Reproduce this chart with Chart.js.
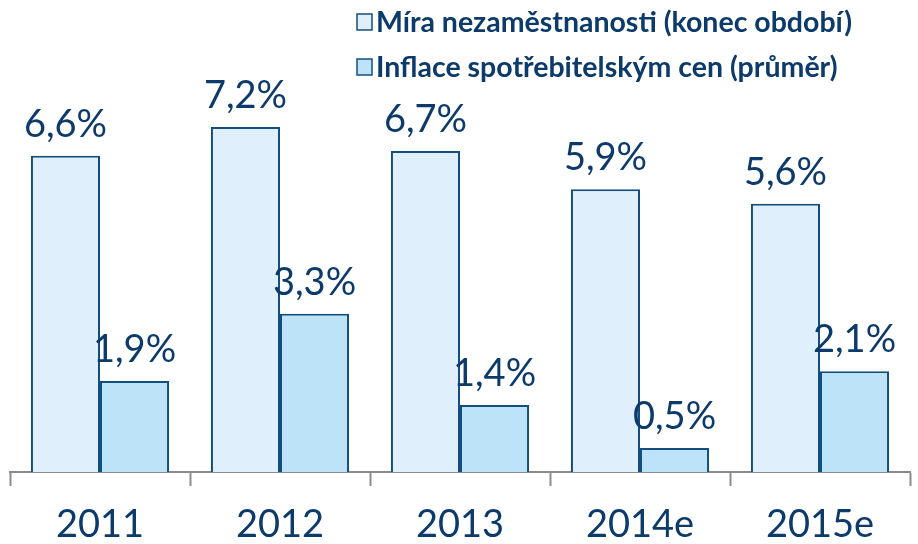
<!DOCTYPE html>
<html>
<head>
<meta charset="utf-8">
<script src="https://cdn.jsdelivr.net/npm/chart.js@4"></script>
<style>
  html, body { margin:0; padding:0; background:#fff; }
  #wrap { width:918px; height:544px; position:relative; }
</style>
</head>
<body>
<div id="wrap"><canvas id="chart"></canvas></div>
<script>
const years        = ['2011', '2012', '2013', '2014e', '2015e'];
const unemployment = [6.6, 7.2, 6.7, 5.9, 5.6];
const inflation    = [1.9, 3.3, 1.4, 0.5, 2.1];
const seriesNames  = ['Míra nezaměstnanosti (konec období)', 'Inflace spotřebitelským cen (průměr)'];

const navy   = '#0c3a6b';
const edge   = '#134e7e';
const fills  = ['#dff0fc', '#bde3f8'];
const axisGr = '#8c8c8c';

const fmt = v => v.toFixed(1).replace('.', ',') + '%';

// value labels above each bar
const valueLabels = {
  id: 'valueLabels',
  afterDatasetsDraw(chart) {
    const ctx = chart.ctx;
    ctx.save();
    ctx.fillStyle = navy;
    ctx.font = '38px Lato';
    ctx.textAlign = 'center';
    ctx.textBaseline = 'alphabetic';
    chart.data.datasets.forEach((ds, i) => {
      chart.getDatasetMeta(i).data.forEach((el, j) => {
        ctx.fillText(fmt(ds.data[j]), el.x, el.y - 19);
      });
    });
    ctx.restore();
  }
};

// legend stacked at top right, left edges aligned
const stackedLegend = {
  id: 'stackedLegend',
  afterDraw(chart) {
    const ctx = chart.ctx;
    ctx.save();
    ctx.font = 'bold 28.5px Lato';
    ctx.textBaseline = 'middle';
    ctx.textAlign = 'left';
    seriesNames.forEach((name, i) => {
      const y = 22 + i * 45;
      ctx.fillStyle = fills[i];
      ctx.fillRect(357, y - 8, 15, 16);
      ctx.strokeStyle = edge;
      ctx.lineWidth = 1.5;
      ctx.strokeRect(357, y - 8, 15, 16);
      ctx.fillStyle = navy;
      ctx.fillText(name, 376, y + 1);
    });
    ctx.restore();
  }
};

new Chart(document.getElementById('chart').getContext('2d'), {
  type: 'bar',
  data: {
    labels: years,
    datasets: [
      { label: seriesNames[0], data: unemployment, backgroundColor: fills[0], borderColor: edge, borderWidth: 2 },
      { label: seriesNames[1], data: inflation,    backgroundColor: fills[1], borderColor: edge, borderWidth: 2 }
    ]
  },
  options: {
    responsive: true,
    maintainAspectRatio: false,
    animation: false,
    layout: { padding: { left: 10, right: 8, top: 0, bottom: 0 } },
    datasets: { bar: { categoryPercentage: 0.767, barPercentage: 1.0 } },
    plugins: {
      legend: { display: false },
      tooltip: { enabled: false }
    },
    scales: {
      x: {
        offset: true,
        afterFit: scale => { scale.height = 72; },
        grid: {
          offset: true,
          drawOnChartArea: false,
          drawTicks: true,
          tickLength: 14,
          tickWidth: 2,
          tickColor: axisGr
        },
        border: { display: true, color: axisGr, width: 2 },
        ticks: { color: navy, font: { family: 'Lato', size: 38, lineHeight: 0.9 }, padding: 22 }
      },
      y: {
        display: false,
        min: 0,
        max: 9.85
      }
    }
  },
  plugins: [valueLabels, stackedLegend]
});
</script>
</body>
</html>
